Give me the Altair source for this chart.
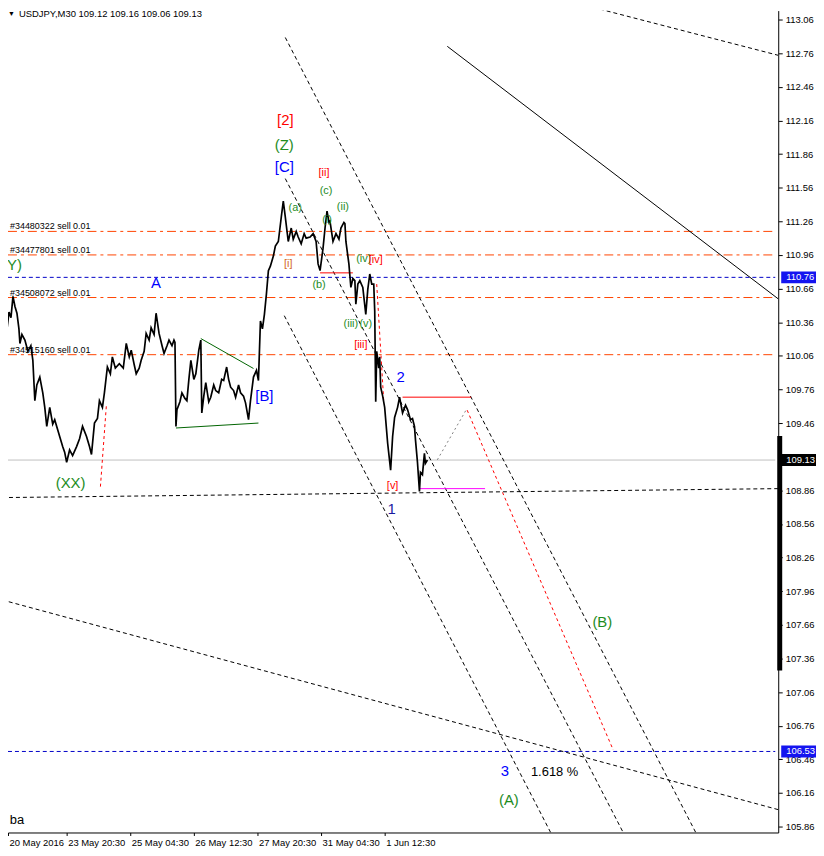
import altair as alt
import pandas as pd

FONT = "Liberation Sans"

# ---------------- data ----------------
# USDJPY M30 price path (bar 0 = 20 May 2016, one bar = 30 minutes)
bar_idx = [0, 2, 4, 6, 8, 10, 12, 14, 16, 17, 19, 22, 25, 28, 30, 32, 34, 37, 40, 42, 44, 47, 50, 52, 55, 57,
           60, 62, 64, 67, 70, 74, 77, 80, 84, 87, 89, 92, 95, 97, 100, 102, 105, 108, 110, 113, 117, 121, 124,
           127, 129, 132, 134, 137, 139, 142, 144, 147, 149, 152, 154, 157, 160, 162, 165, 167, 170, 172, 173,
           174, 175, 178, 180, 183, 185, 187, 189, 192, 194, 197, 199, 200, 202, 204, 207, 209, 212, 214, 217,
           220, 222, 225, 227, 229, 232, 234, 237, 239, 242, 244, 247, 249, 252, 255, 257, 259, 261, 263, 265,
           267, 269, 272, 274, 277, 280, 282, 284, 287, 290, 292, 295, 297, 300, 303, 305, 309, 312, 315, 317,
           319, 322, 324, 326, 328, 329, 332, 335, 338, 340, 343, 344, 345, 348, 350, 352, 354, 355, 357, 359,
           362, 365, 367, 369, 371, 373, 374, 375, 376, 378, 379, 380, 382, 384, 387, 390, 392, 394, 397, 399,
           402, 405, 407, 410, 412, 414, 415, 417, 419, 420, 422, 424, 425, 427]
close_px = [110.26, 110.35, 110.30, 110.45, 110.40, 110.59, 110.50, 110.44, 110.30, 110.17, 110.25, 110.20,
            110.10, 110.15, 110.02, 109.66, 109.80, 109.87, 109.73, 109.60, 109.43, 109.60, 109.45, 109.49,
            109.40, 109.34, 109.25, 109.20, 109.11, 109.22, 109.17, 109.25, 109.32, 109.43, 109.34, 109.25,
            109.18, 109.46, 109.50, 109.66, 109.60, 109.73, 109.96, 109.90, 110.05, 109.95, 109.99, 109.95,
            110.17, 110.05, 110.11, 109.98, 109.90, 109.95, 110.02, 110.10, 110.26, 110.20, 110.31, 110.25,
            110.44, 110.26, 110.15, 110.08, 110.15, 110.20, 110.15, 110.20, 110.18, 109.43, 109.58, 109.65,
            109.73, 109.68, 109.66, 109.85, 110.02, 109.85, 109.90, 110.11, 110.20, 109.55, 109.70, 109.82,
            109.65, 109.69, 109.80, 109.75, 109.73, 109.85, 109.84, 109.96, 109.85, 109.78, 109.75, 109.69,
            109.80, 109.73, 109.70, 109.64, 109.49, 109.66, 109.87, 109.93, 109.84, 110.37, 110.30, 110.43,
            110.61, 110.82, 110.86, 110.95, 111.04, 111.08, 111.30, 111.44, 111.30, 111.08, 111.20, 111.10,
            111.17, 111.12, 111.06, 111.15, 111.11, 111.12, 111.15, 111.08, 110.88, 110.82, 111.02, 111.20,
            111.35, 111.25, 111.26, 111.08, 111.15, 111.10, 111.20, 111.25, 111.24, 111.08, 110.88, 110.67,
            110.75, 110.73, 110.52, 110.70, 110.73, 110.67, 110.43, 110.65, 110.79, 110.70, 110.70, 110.46,
            109.65, 110.10, 109.95, 110.05, 109.78, 109.70, 109.60, 109.28, 109.04, 109.34, 109.51, 109.60,
            109.69, 109.55, 109.62, 109.58, 109.49, 109.50, 109.43, 109.31, 109.11, 108.85, 109.02, 109.00,
            109.19, 109.10, 109.13]

date_ticks = [0, 64, 128, 192, 256, 320, 384]
date_text = ["20 May 2016", "23 May 20:30", "25 May 04:30", "26 May 12:30",
             "27 May 20:30", "31 May 04:30", "1 Jun 12:30"]
price_ticks = [105.86, 106.16, 106.46, 106.76, 107.06, 107.36, 107.66, 107.96, 108.26, 108.56, 108.86,
               109.16, 109.46, 109.76, 110.06, 110.36, 110.66, 110.96, 111.26, 111.56, 111.86, 112.16,
               112.46, 112.76, 113.06]

title_parts = ["USDJPY,M30", "109.12 109.16 109.06 109.13"]

# pending orders
order_px = [111.17, 110.96, 110.58, 110.07]
order_txt = ["#34480322 sell 0.01", "#34477801 sell 0.01", "#34508072 sell 0.01", "#34515160 sell 0.01"]
blue_levels = [110.76, 106.53]
bid_level = [109.13]

# trend lines: (bar1, price1, bar2, price2)
black_dotted = [(284, 112.90, 697, 105.807), (284, 111.641, 624, 105.807), (283, 110.418, 551, 105.807),
                (587, 113.184, 780, 112.741), (-1, 107.882, 780, 106.011), (-1, 108.795, 780, 108.875)]
black_solid = [(447, 112.821, 780, 110.568)]
red_dotted = [(98, 108.893, 104, 109.62), (467, 109.575, 614, 106.543), (376, 110.70, 383, 109.664)]
red_solid = [(319, 110.80, 352, 110.80), (402, 109.691, 471, 109.691)]
gray_dotted = [(437, 109.132, 467, 109.593)]
magenta_solid = [(419, 108.875, 485, 108.875)]
green_solid = [(199, 110.214, 252, 109.947), (174, 109.416, 257, 109.46)]

# wave labels
green_big = (["(Z)", "(Y)", "(XX)", "(B)", "(A)"], [283, 9, 68, 603, 509], [111.943, 110.87, 108.929, 107.686, 106.10])
green_small = (["(c)", "(ii)", "(a)", "(i)", "(b)", "(iv)", "(iii)", "(v)"],
               [325, 342, 294, 326, 318, 363, 350, 365],
               [111.526, 111.384, 111.375, 111.269, 110.692, 110.923, 110.347, 110.347])
red_big = (["[2]"], [284], [112.164])
red_small = (["[ii]", "[iv]", "[iii]", "[v]"], [323, 375, 360, 392], [111.695, 110.914, 110.16, 108.902])
orange_small = (["[i]"], [287], [110.879])
blue_big = (["[C]", "2", "A", "[B]", "3"], [283, 400, 154, 263, 505], [111.748, 109.868, 110.71, 109.70, 106.357])
navy_big = (["1"], [391], [108.689])
black_txt = (["1.618 %"], [555], [106.348])
black_txt2 = (["ba"], [14], [105.922])

# price boxes on the price scale
box_px = [110.76, 109.13, 106.53]
box_fill = ["#1414f0", "#000000", "#1414f0"]
scroll_bar = [(109.345, 107.252)]

# ---------------- scales & axes ----------------
X_MIN, X_MAX = 5, 780
Y_MIN, Y_MAX = 105.807, 113.14
W, H = 775, 827
xs = alt.Scale(domain=[X_MIN, X_MAX], nice=False, zero=False)
ys = alt.Scale(domain=[Y_MIN, Y_MAX], nice=False, zero=False)

tick_vals = [max(t, X_MIN) for t in date_ticks]
expr = " : ".join(f"datum.value == {v} ? '{t}'" for v, t in zip(tick_vals, date_text)) + " : ''"

x_axis = alt.Axis(values=tick_vals, labelExpr=expr, orient="bottom", labelAlign="left", labelBaseline="top",
                  labelPadding=2, labelOffset=1, tickSize=3, tickColor="black", domainColor="black",
                  labelColor="black", labelFont=FONT, labelFontSize=9.5, grid=False, title=None,
                  labelFlush=False, labelOverlap=False)
y_axis = alt.Axis(values=price_ticks, orient="right", format=".2f", tickSize=4, labelPadding=3,
                  labelFont=FONT, labelFontSize=9.5, labelColor="black", domainColor="black",
                  tickColor="black", grid=False, title=None, labelOverlap=False, labelFlush=False)


def X(f):
    return alt.X(f, type="quantitative", scale=xs, axis=x_axis)


def Y(f):
    return alt.Y(f, type="quantitative", scale=ys, axis=y_axis)


layers = []

# price series (carries the axes)
price_df = pd.DataFrame({"bar": bar_idx, "price": close_px})
price_layer = alt.Chart(price_df).mark_line(color="black", strokeWidth=1.7, clip=True).encode(
    x=X("bar"), y=Y("price"), order="bar:Q")

# horizontal levels
ord_df = pd.DataFrame({"price": order_px, "t": order_txt})
layers.append(alt.Chart(ord_df).mark_rule(color="#ff4500", strokeDash=[9, 4, 3, 4], strokeWidth=1).encode(
    y=Y("price"), x=alt.value(0), x2=alt.value(772)))
layers.append(alt.Chart(ord_df).mark_text(align="left", baseline="alphabetic", dy=-2, fontSize=9, font=FONT,
                                          color="black").encode(y=Y("price"), x=alt.value(2), text="t:N"))
layers.append(alt.Chart(pd.DataFrame({"price": blue_levels})).mark_rule(
    color="#0000c8", strokeDash=[4, 3], strokeWidth=1).encode(y=Y("price"), x=alt.value(0), x2=alt.value(772)))
layers.append(alt.Chart(pd.DataFrame({"price": bid_level})).mark_rule(
    color="#c0c0c0", strokeWidth=1).encode(y=Y("price"), x=alt.value(0), x2=alt.value(772)))


def seg_layer(segs, color, dash=None, width=1.0):
    df = pd.DataFrame(segs, columns=["b1", "p1", "b2", "p2"])
    kw = dict(color=color, strokeWidth=width, clip=True)
    if dash:
        kw["strokeDash"] = dash
    return alt.Chart(df).mark_rule(**kw).encode(x=X("b1"), y=Y("p1"), x2="b2", y2="p2")


layers.append(seg_layer(black_dotted, "black", [4, 3]))
layers.append(seg_layer(black_solid, "black"))
layers.append(seg_layer(red_dotted, "#ff0000", [3, 3]))
layers.append(seg_layer(red_solid, "#ff0000"))
layers.append(seg_layer(gray_dotted, "#808080", [2, 3]))
layers.append(seg_layer(magenta_solid, "#ff00ff"))
layers.append(seg_layer(green_solid, "#006400"))

layers.append(price_layer)


def label_layer(spec, color, size):
    t, b, p = spec
    df = pd.DataFrame({"t": t, "bar": b, "price": p})
    return alt.Chart(df).mark_text(color=color, fontSize=size, font=FONT, align="center",
                                   baseline="middle").encode(x=X("bar"), y=Y("price"), text="t:N")


layers.append(label_layer(green_big, "#1e8c1e", 15))
layers.append(label_layer(green_small, "#1e8c1e", 11))
layers.append(label_layer(red_big, "#ff0000", 15))
layers.append(label_layer(red_small, "#ff0000", 11))
layers.append(label_layer(orange_small, "#d2691e", 11))
layers.append(label_layer(blue_big, "#0000ff", 15))
layers.append(label_layer(navy_big, "#1a1aa0", 15))
layers.append(label_layer(black_txt, "black", 13))
layers.append(label_layer(black_txt2, "black", 13))

# price-scale boxes
half = 6 * (Y_MAX - Y_MIN) / H
box_df = pd.DataFrame({"price": box_px, "fill": box_fill})
box_df["lo"] = box_df["price"] - half
box_df["hi"] = box_df["price"] + half
box_df["t"] = box_df["price"].map(lambda v: f"{v:.2f}")
layers.append(alt.Chart(box_df).mark_rect().encode(
    x=alt.value(778), x2=alt.value(814), y=Y("lo"), y2="hi", color=alt.Color("fill:N", scale=None)))
layers.append(alt.Chart(box_df).mark_text(color="white", align="left", baseline="middle", fontSize=9.5,
                                          font=FONT).encode(x=alt.value(783), y=Y("price"), text="t:N"))

sb_df = pd.DataFrame(scroll_bar, columns=["top", "bottom"])
layers.append(alt.Chart(sb_df).mark_rect(color="black").encode(
    x=alt.value(774), x2=alt.value(779), y=Y("top"), y2="bottom"))

# header text
hdr = pd.DataFrame({"t": ["\u25bc"], "u": [title_parts[0] + "  " + title_parts[1]]})
layers.append(alt.Chart(hdr).mark_text(align="left", baseline="alphabetic", fontSize=7, font=FONT,
                                       color="black").encode(x=alt.value(0), y=alt.value(5), text="t:N"))
layers.append(alt.Chart(hdr).mark_text(align="left", baseline="alphabetic", fontSize=9.5, font=FONT,
                                       color="black").encode(x=alt.value(11), y=alt.value(6), text="u:N"))

chart = alt.layer(*layers).properties(
    width=W, height=H,
    padding={"left": 0, "top": 0, "right": 38, "bottom": 14},
    autosize=alt.AutoSizeParams(type="none"),
    background="white",
).configure_view(stroke=None)

chart.save("out.html", embed_options={"renderer": "svg", "actions": False})
